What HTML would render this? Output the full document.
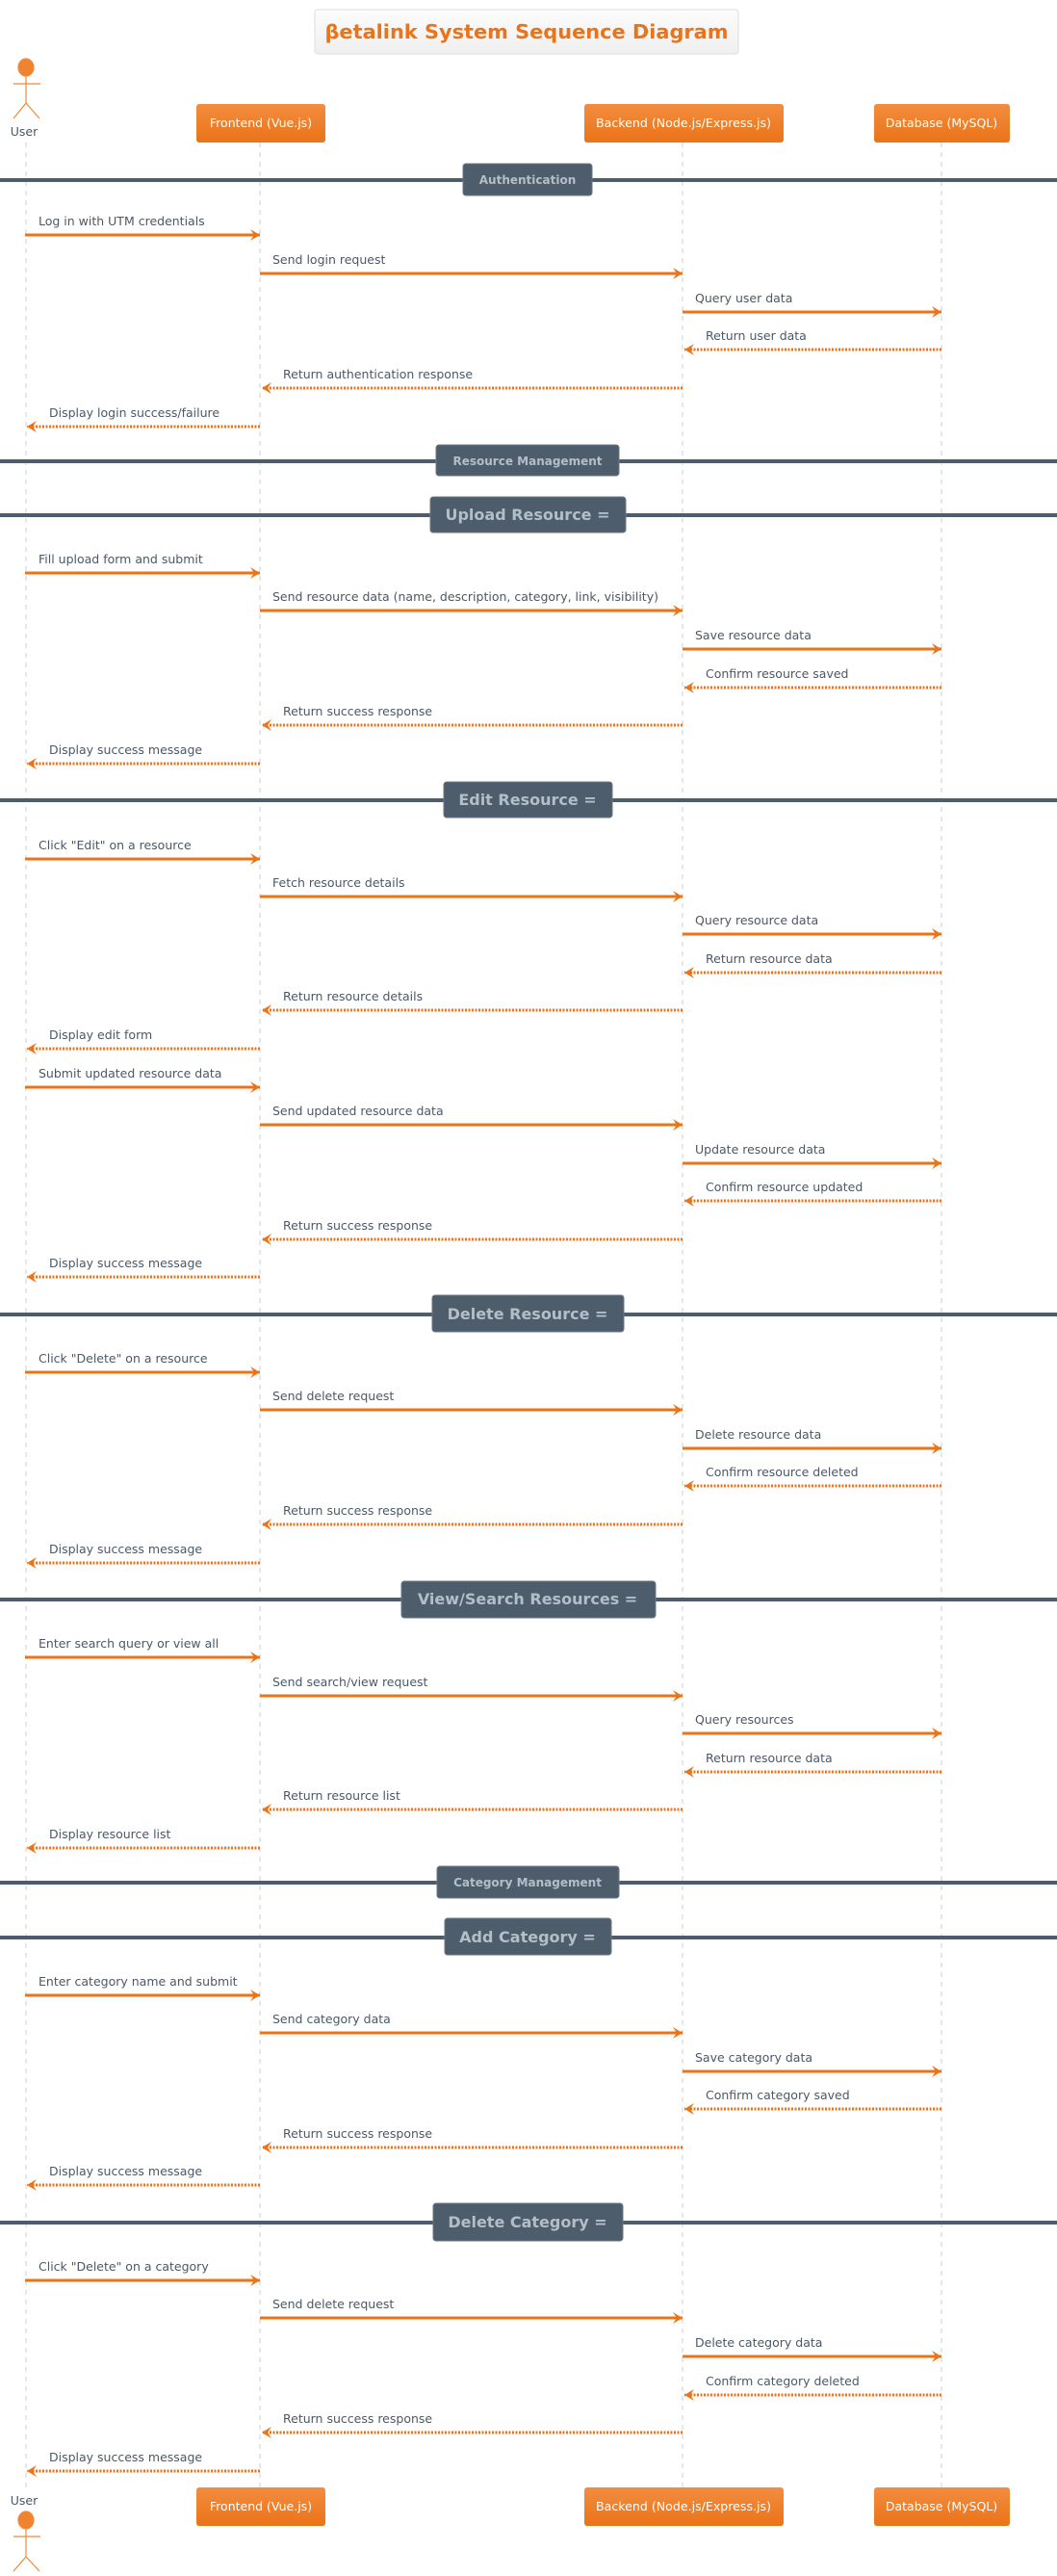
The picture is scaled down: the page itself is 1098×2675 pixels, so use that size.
<!DOCTYPE html>
<html><head><meta charset="utf-8"><style>
html,body{margin:0;padding:0;background:#fff}
svg{display:block}
.ll{stroke:#cfcfcf;stroke-width:1;stroke-dasharray:5 5}
.f{stroke:#ec7317;stroke-width:3;marker-end:url(#ah)}
.r{stroke:#ec7317;stroke-width:3;stroke-dasharray:2 1.5;marker-end:url(#ah)}
.t{font-family:"DejaVu Sans","Liberation Sans",sans-serif;font-size:12.5px;fill:#4b5866}
.dl{stroke:#4e5d6b;stroke-width:4}
.db{fill:#4e5d6b;stroke:#6b7886;stroke-width:1}
.dt{font-family:"DejaVu Sans","Liberation Sans",sans-serif;font-weight:bold;fill:#b3bec9;text-anchor:middle}
.pb{fill:url(#og)}
.pt{font-family:"DejaVu Sans","Liberation Sans",sans-serif;font-size:12.5px;fill:#fff;text-anchor:middle}
</style></head><body>
<svg width="1098" height="2675" viewBox="0 0 1098 2675" xmlns="http://www.w3.org/2000/svg">
<defs>
<linearGradient id="og" x1="0" y1="0" x2="0" y2="1"><stop offset="0" stop-color="#f28d40"/><stop offset="1" stop-color="#eb7318"/></linearGradient>
<linearGradient id="tg" x1="0" y1="0" x2="0" y2="1"><stop offset="0" stop-color="#fcfcfc"/><stop offset="1" stop-color="#efefef"/></linearGradient>
<marker id="ah" viewBox="0 -6 10 12" refX="10" refY="0" markerWidth="10" markerHeight="12" markerUnits="userSpaceOnUse" orient="auto"><path d="M0 -6 L10 0 L0 6 L4 0Z" fill="#ec7317"/></marker>
</defs>
<rect x="327" y="10" width="440" height="46" rx="3" fill="url(#tg)" stroke="#dedede"/>
<text x="547" y="40" text-anchor="middle" font-family="DejaVu Sans,Liberation Sans,sans-serif" font-weight="bold" font-size="20" fill="#ec7317" textLength="419" lengthAdjust="spacingAndGlyphs">βetalink System Sequence Diagram</text>
<line class="ll" x1="27" y1="148" x2="27" y2="2583"/>
<line class="ll" x1="270" y1="148" x2="270" y2="2583"/>
<line class="ll" x1="709" y1="148" x2="709" y2="2583"/>
<line class="ll" x1="978" y1="148" x2="978" y2="2583"/>
<g stroke="#f08a3a" stroke-width="1.2" fill="none">
<ellipse cx="27" cy="70" rx="8" ry="9" fill="#ef8330"/>
<line x1="27" y1="79" x2="27" y2="107"/><line x1="14" y1="87" x2="42" y2="87"/>
<line x1="27" y1="107" x2="14" y2="123"/><line x1="27" y1="107" x2="41" y2="123"/>
</g>
<text class="t" x="25" y="141" text-anchor="middle" font-size="12.5">User</text>
<rect class="pb" x="204" y="108" width="134" height="40" rx="3"/><text class="pt" x="271" y="132">Frontend (Vue.js)</text>
<rect class="pb" x="607" y="108" width="207" height="40" rx="3"/><text class="pt" x="710" y="132" textLength="182" lengthAdjust="spacingAndGlyphs">Backend (Node.js/Express.js)</text>
<rect class="pb" x="908" y="108" width="141" height="40" rx="3"/><text class="pt" x="978" y="132">Database (MySQL)</text>
<g stroke="#f08a3a" stroke-width="1.2" fill="none">
<ellipse cx="27" cy="2617" rx="8" ry="9" fill="#ef8330"/>
<line x1="27" y1="2626" x2="27" y2="2655"/><line x1="14" y1="2634" x2="42" y2="2634"/>
<line x1="27" y1="2655" x2="14" y2="2670"/><line x1="27" y1="2655" x2="41" y2="2670"/>
</g>
<text class="t" x="25" y="2601" text-anchor="middle" font-size="12.5">User</text>
<rect class="pb" x="204" y="2583" width="134" height="40" rx="3"/><text class="pt" x="271" y="2607">Frontend (Vue.js)</text>
<rect class="pb" x="607" y="2583" width="207" height="40" rx="3"/><text class="pt" x="710" y="2607" textLength="182" lengthAdjust="spacingAndGlyphs">Backend (Node.js/Express.js)</text>
<rect class="pb" x="908" y="2583" width="141" height="40" rx="3"/><text class="pt" x="978" y="2607">Database (MySQL)</text>

<line class="dl" x1="0" y1="187" x2="1098" y2="187"/><rect class="db" x="481" y="170" width="134" height="33" rx="3"/><text class="dt" x="548" y="191" font-size="12">Authentication</text>
<line class="dl" x1="0" y1="479" x2="1098" y2="479"/><rect class="db" x="453" y="462" width="190" height="32" rx="3"/><text class="dt" x="548" y="483" font-size="12">Resource Management</text>
<line class="dl" x1="0" y1="535" x2="1098" y2="535"/><rect class="db" x="447" y="516" width="203" height="37" rx="3"/><text class="dt" x="548" y="540" font-size="16">Upload Resource =</text>
<line class="dl" x1="0" y1="831" x2="1098" y2="831"/><rect class="db" x="461" y="812" width="175" height="37" rx="3"/><text class="dt" x="548" y="836" font-size="16">Edit Resource =</text>
<line class="dl" x1="0" y1="1365" x2="1098" y2="1365"/><rect class="db" x="449" y="1345" width="199" height="38" rx="3"/><text class="dt" x="548" y="1370" font-size="16">Delete Resource =</text>
<line class="dl" x1="0" y1="1661" x2="1098" y2="1661"/><rect class="db" x="417" y="1642" width="264" height="38" rx="3"/><text class="dt" x="548" y="1666" font-size="16">View/Search Resources =</text>
<line class="dl" x1="0" y1="1955" x2="1098" y2="1955"/><rect class="db" x="454" y="1938" width="189" height="33" rx="3"/><text class="dt" x="548" y="1959" font-size="12">Category Management</text>
<line class="dl" x1="0" y1="2012" x2="1098" y2="2012"/><rect class="db" x="462" y="1992" width="173" height="38" rx="3"/><text class="dt" x="548" y="2017" font-size="16">Add Category =</text>
<line class="dl" x1="0" y1="2308" x2="1098" y2="2308"/><rect class="db" x="450" y="2288" width="197" height="39" rx="3"/><text class="dt" x="548" y="2313" font-size="16">Delete Category =</text>

<line class="f" x1="26" y1="244" x2="270" y2="244"/><text class="t" x="40" y="234">Log in with UTM credentials</text>
<line class="f" x1="270" y1="284" x2="709" y2="284"/><text class="t" x="283" y="274">Send login request</text>
<line class="f" x1="709" y1="324" x2="978" y2="324"/><text class="t" x="722" y="314">Query user data</text>
<line class="r" x1="978" y1="363" x2="711" y2="363"/><text class="t" x="733" y="353">Return user data</text>
<line class="r" x1="709" y1="403" x2="272" y2="403"/><text class="t" x="294" y="393">Return authentication response</text>
<line class="r" x1="270" y1="443" x2="28" y2="443"/><text class="t" x="51" y="433">Display login success/failure</text>
<line class="f" x1="26" y1="595" x2="270" y2="595"/><text class="t" x="40" y="585">Fill upload form and submit</text>
<line class="f" x1="270" y1="634" x2="709" y2="634"/><text class="t" x="283" y="624">Send resource data (name, description, category, link, visibility)</text>
<line class="f" x1="709" y1="674" x2="978" y2="674"/><text class="t" x="722" y="664">Save resource data</text>
<line class="r" x1="978" y1="714" x2="711" y2="714"/><text class="t" x="733" y="704">Confirm resource saved</text>
<line class="r" x1="709" y1="753" x2="272" y2="753"/><text class="t" x="294" y="743">Return success response</text>
<line class="r" x1="270" y1="793" x2="28" y2="793"/><text class="t" x="51" y="783">Display success message</text>
<line class="f" x1="26" y1="892" x2="270" y2="892"/><text class="t" x="40" y="882">Click "Edit" on a resource</text>
<line class="f" x1="270" y1="931" x2="709" y2="931"/><text class="t" x="283" y="921">Fetch resource details</text>
<line class="f" x1="709" y1="970" x2="978" y2="970"/><text class="t" x="722" y="960">Query resource data</text>
<line class="r" x1="978" y1="1010" x2="711" y2="1010"/><text class="t" x="733" y="1000">Return resource data</text>
<line class="r" x1="709" y1="1049" x2="272" y2="1049"/><text class="t" x="294" y="1039">Return resource details</text>
<line class="r" x1="270" y1="1089" x2="28" y2="1089"/><text class="t" x="51" y="1079">Display edit form</text>
<line class="f" x1="26" y1="1129" x2="270" y2="1129"/><text class="t" x="40" y="1119">Submit updated resource data</text>
<line class="f" x1="270" y1="1168" x2="709" y2="1168"/><text class="t" x="283" y="1158">Send updated resource data</text>
<line class="f" x1="709" y1="1208" x2="978" y2="1208"/><text class="t" x="722" y="1198">Update resource data</text>
<line class="r" x1="978" y1="1247" x2="711" y2="1247"/><text class="t" x="733" y="1237">Confirm resource updated</text>
<line class="r" x1="709" y1="1287" x2="272" y2="1287"/><text class="t" x="294" y="1277">Return success response</text>
<line class="r" x1="270" y1="1326" x2="28" y2="1326"/><text class="t" x="51" y="1316">Display success message</text>
<line class="f" x1="26" y1="1425" x2="270" y2="1425"/><text class="t" x="40" y="1415">Click "Delete" on a resource</text>
<line class="f" x1="270" y1="1464" x2="709" y2="1464"/><text class="t" x="283" y="1454">Send delete request</text>
<line class="f" x1="709" y1="1504" x2="978" y2="1504"/><text class="t" x="722" y="1494">Delete resource data</text>
<line class="r" x1="978" y1="1543" x2="711" y2="1543"/><text class="t" x="733" y="1533">Confirm resource deleted</text>
<line class="r" x1="709" y1="1583" x2="272" y2="1583"/><text class="t" x="294" y="1573">Return success response</text>
<line class="r" x1="270" y1="1623" x2="28" y2="1623"/><text class="t" x="51" y="1613">Display success message</text>
<line class="f" x1="26" y1="1721" x2="270" y2="1721"/><text class="t" x="40" y="1711">Enter search query or view all</text>
<line class="f" x1="270" y1="1761" x2="709" y2="1761"/><text class="t" x="283" y="1751">Send search/view request</text>
<line class="f" x1="709" y1="1800" x2="978" y2="1800"/><text class="t" x="722" y="1790">Query resources</text>
<line class="r" x1="978" y1="1840" x2="711" y2="1840"/><text class="t" x="733" y="1830">Return resource data</text>
<line class="r" x1="709" y1="1879" x2="272" y2="1879"/><text class="t" x="294" y="1869">Return resource list</text>
<line class="r" x1="270" y1="1919" x2="28" y2="1919"/><text class="t" x="51" y="1909">Display resource list</text>
<line class="f" x1="26" y1="2072" x2="270" y2="2072"/><text class="t" x="40" y="2062">Enter category name and submit</text>
<line class="f" x1="270" y1="2111" x2="709" y2="2111"/><text class="t" x="283" y="2101">Send category data</text>
<line class="f" x1="709" y1="2151" x2="978" y2="2151"/><text class="t" x="722" y="2141">Save category data</text>
<line class="r" x1="978" y1="2190" x2="711" y2="2190"/><text class="t" x="733" y="2180">Confirm category saved</text>
<line class="r" x1="709" y1="2230" x2="272" y2="2230"/><text class="t" x="294" y="2220">Return success response</text>
<line class="r" x1="270" y1="2269" x2="28" y2="2269"/><text class="t" x="51" y="2259">Display success message</text>
<line class="f" x1="26" y1="2368" x2="270" y2="2368"/><text class="t" x="40" y="2358">Click "Delete" on a category</text>
<line class="f" x1="270" y1="2407" x2="709" y2="2407"/><text class="t" x="283" y="2397">Send delete request</text>
<line class="f" x1="709" y1="2447" x2="978" y2="2447"/><text class="t" x="722" y="2437">Delete category data</text>
<line class="r" x1="978" y1="2487" x2="711" y2="2487"/><text class="t" x="733" y="2477">Confirm category deleted</text>
<line class="r" x1="709" y1="2526" x2="272" y2="2526"/><text class="t" x="294" y="2516">Return success response</text>
<line class="r" x1="270" y1="2566" x2="28" y2="2566"/><text class="t" x="51" y="2556">Display success message</text>
</svg>
</body></html>
